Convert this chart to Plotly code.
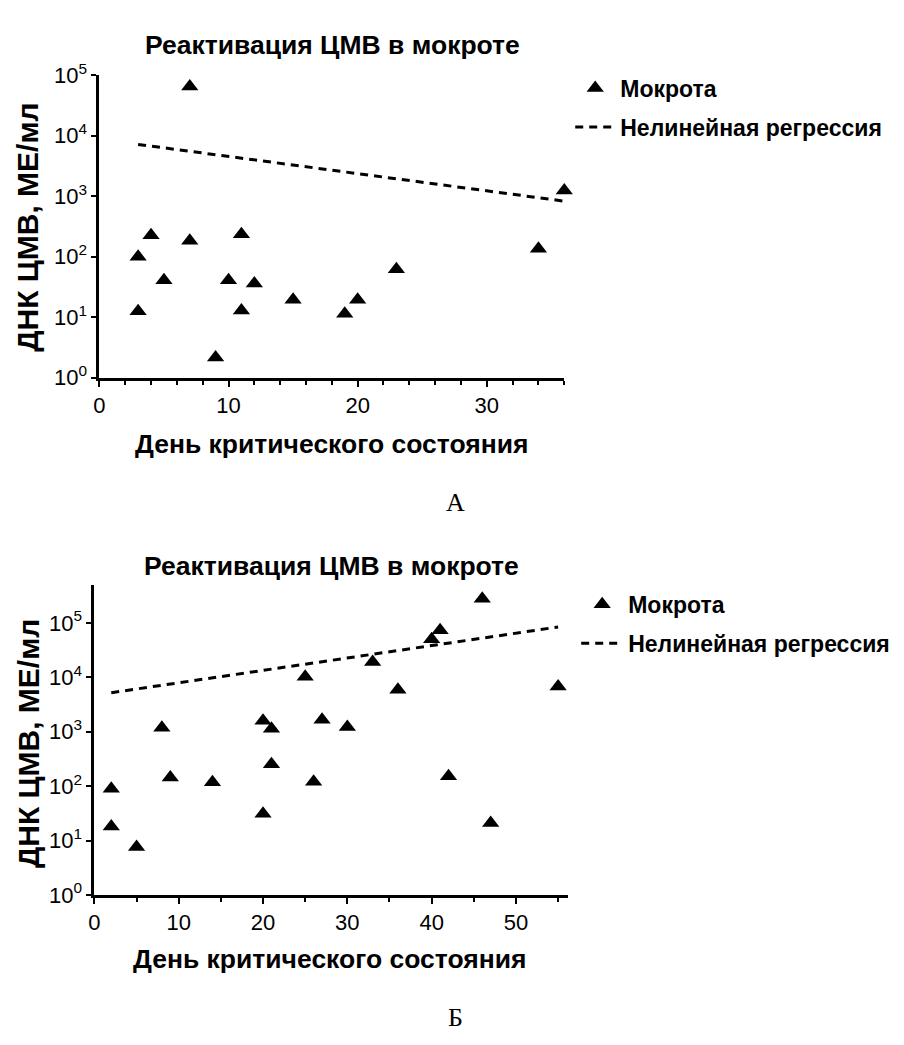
import plotly.graph_objects as go

# ---- Panel A data ----
a_day = [7, 3, 3, 4, 5, 7, 9, 10, 11, 11, 12, 15, 19, 20, 23, 34, 36]
a_dna = [65000, 100, 12.5, 226, 41, 183, 2.15, 41, 235, 12.9, 36, 19.4, 11.4, 19.4, 62, 135, 1250]
a_fit_day = [3, 36]
a_fit_dna = [7200, 830]

# ---- Panel B data ----
b_day = [2, 2, 5, 8, 9, 14, 20, 20, 21, 21, 25, 26, 27, 30, 33, 36, 40, 41, 42, 46, 47, 55]
b_dna = [89, 18, 7.6, 1180, 144, 118, 31, 1590, 1130, 253, 10200, 120, 1660, 1220,
         19000, 5900, 50000, 73000, 151, 276000, 21, 6800]
b_fit_day = [2, 55]
b_fit_dna = [5200, 84000]

title_text = "Реактивация ЦМВ в мокроте"
x_title = "День критического состояния"
y_title = "ДНК ЦМВ, МЕ/мл"
series_name = "Мокрота"
fit_name = "Нелинейная регрессия"
y_tickvals = [1, 10, 100, 1000, 10000, 100000]
y_ticktext = ["10<sup>0</sup>", "10<sup>1</sup>", "10<sup>2</sup>", "10<sup>3</sup>",
              "10<sup>4</sup>", "10<sup>5</sup>"]

FONT = "Liberation Sans"
W, H = 904, 1045

fig = go.Figure()

def add_panel(days, dna, fd, fy, xa, ya, leg):
    fig.add_trace(go.Scatter(
        x=days, y=dna, mode="markers", name=series_name, legendgroup=leg + "m",
        marker=dict(symbol="triangle-up", size=15, color="black"),
        xaxis=xa, yaxis=ya, legend=leg, cliponaxis=False))
    fig.add_trace(go.Scatter(
        x=fd, y=fy, mode="lines", name=fit_name, legendgroup=leg + "l",
        line=dict(color="black", width=3, dash="8px,6px"),
        xaxis=xa, yaxis=ya, legend=leg, cliponaxis=False))

add_panel(a_day, a_dna, a_fit_day, a_fit_dna, "x", "y", "legend")
add_panel(b_day, b_dna, b_fit_day, b_fit_dna, "x2", "y2", "legend2")

def px_x(px):
    return px / W

def px_y(py):
    return (H - py) / H

axis_common = dict(
    showline=True, linecolor="black", linewidth=3, mirror=False,
    showgrid=False, zeroline=False, ticks="outside", tickcolor="black",
    tickwidth=2, tickfont=dict(family=FONT, size=22, color="black"),
)

legend_font = dict(family=FONT, size=23, color="black", weight="bold")

fig.update_layout(
    width=W, height=H, margin=dict(l=0, r=0, t=0, b=0),
    paper_bgcolor="white", plot_bgcolor="white", showlegend=True,
    xaxis=dict(axis_common, domain=[px_x(94), px_x(562)], range=[0, 36],
               tickvals=[0, 10, 20, 30], ticklen=6,
               minor=dict(dtick=2, tick0=0, ticks="outside", ticklen=4,
                          tickwidth=2, tickcolor="black"),
               anchor="y"),
    yaxis=dict(axis_common, domain=[px_y(372), px_y(61)], type="log", range=[0, 5],
               tickvals=y_tickvals, ticktext=y_ticktext, ticklen=5, anchor="x"),
    xaxis2=dict(axis_common, domain=[px_x(89), px_x(566)], range=[0, 56.2],
                tickvals=[0, 10, 20, 30, 40, 50], ticklen=6,
                minor=dict(dtick=5, tick0=0, ticks="outside", ticklen=4,
                           tickwidth=2, tickcolor="black"),
                anchor="y2"),
    yaxis2=dict(axis_common, domain=[px_y(904), px_y(585)], type="log", range=[0, 5.7],
                tickvals=y_tickvals, ticktext=y_ticktext, ticklen=5, anchor="x2"),
    legend=dict(x=px_x(568), y=px_y(52), xanchor="left", yanchor="top",
                font=legend_font, bgcolor="rgba(0,0,0,0)", itemwidth=40,
                tracegroupgap=6),
    legend2=dict(x=px_x(574), y=px_y(583), xanchor="left", yanchor="top",
                 font=legend_font, bgcolor="rgba(0,0,0,0)", itemwidth=42,
                 tracegroupgap=6),
)

def text(x, y, s, size, bold=True, angle=0, family=FONT):
    fig.add_annotation(x=px_x(x), y=px_y(y), xref="paper", yref="paper", text=s,
                       showarrow=False, textangle=angle, xanchor="center", yanchor="middle",
                       font=dict(family=family, size=size, color="black",
                                 weight="bold" if bold else "normal"))

# titles and axis titles (centred on their axes)
text(329, 30, title_text, 26.5)
text(328, 440, x_title, 26.5)
text(22, 217, y_title, 30, angle=-90)
text(452, 500, "А", 26, bold=False, family="Liberation Serif")

text(328, 566, title_text, 26.5)
text(326, 970, x_title, 26.5)
text(22, 748, y_title, 30, angle=-90)
text(452, 1030, "Б", 26, bold=False, family="Liberation Serif")

fig.write_html("out.html", config={"displayModeBar": False},
               post_script="document.body.style.margin='0';")
